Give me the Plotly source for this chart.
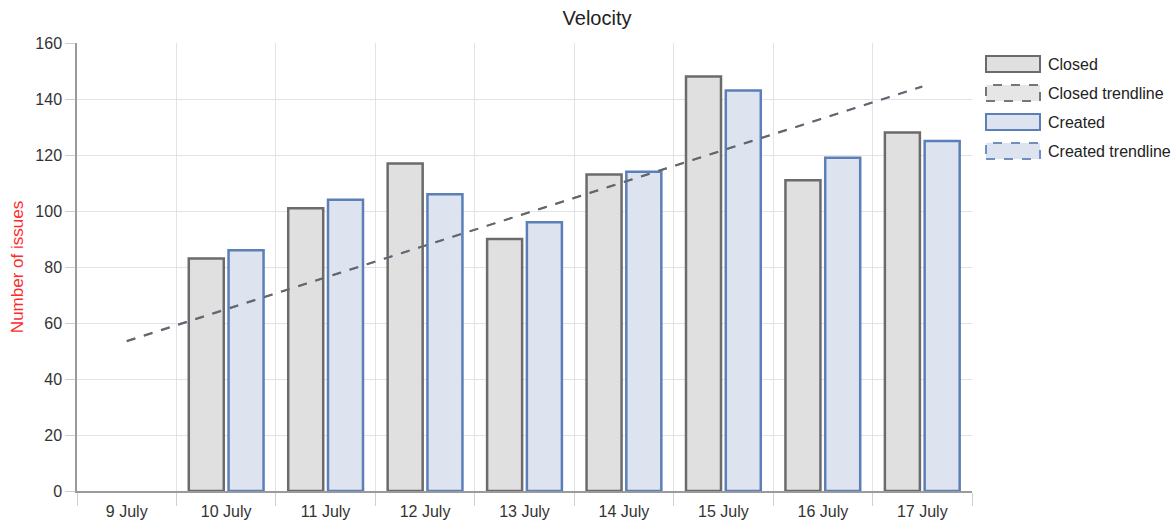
import plotly.graph_objects as go

categories = ["9 July", "10 July", "11 July", "12 July", "13 July", "14 July", "15 July", "16 July", "17 July"]
closed = [None, 83, 101, 117, 90, 113, 148, 111, 128]
created = [None, 86, 104, 106, 96, 114, 143, 119, 125]
trend_x = ["9 July", "17 July"]
closed_trend = [53.5, 144.5]
created_trend = [53.6, 144.4]
y_ticks = [0, 20, 40, 60, 80, 100, 120, 140, 160]

FONT = "Liberation Sans, Arial, sans-serif"
W, H = 1172, 520
L, R, T, B = 77, 200, 43, 29
PW, PH = W - L - R, H - T - B

fig = go.Figure()
fig.add_bar(x=categories, y=closed, name="Closed",
            marker=dict(color="#e0e0e0", line=dict(color="#6b6b6b", width=2.5)))
fig.add_bar(x=categories, y=created, name="Created",
            marker=dict(color="#dde4ef", line=dict(color="#5b7fb8", width=2.5)))
fig.add_scatter(x=trend_x, y=created_trend, mode="lines", name="Created trendline",
                line=dict(color="#6f8fc4", width=2, dash="dash"))
fig.add_scatter(x=trend_x, y=closed_trend, mode="lines", name="Closed trendline",
                line=dict(color="#666666", width=2, dash="dash"))

# custom legend (pixel positions converted to paper coords)
def px(x):
    return (x - L) / PW

def py(y):
    return (H - B - y) / PH

legend_items = [
    ("Closed", "#e0e0e0", "#6b6b6b", "solid"),
    ("Closed trendline", "#e6e6e6", "#777777", "dash"),
    ("Created", "#dde4ef", "#5b7fb8", "solid"),
    ("Created trendline", "#dde4ef", "#6f8fc4", "dash"),
]
shapes = []
annotations = []
for i, (label, fill, border, dash) in enumerate(legend_items):
    top = 56 + i * 29
    shapes.append(dict(type="rect", xref="paper", yref="paper",
                       x0=px(986), x1=px(1040), y0=py(top + 16), y1=py(top),
                       fillcolor=fill, line=dict(color=border, width=2, dash=dash)))
    annotations.append(dict(xref="paper", yref="paper", x=px(1046), y=py(top + 8),
                            text=label, showarrow=False, xanchor="left", yanchor="middle",
                            font=dict(family=FONT, size=16, color="#222222")))

fig.update_layout(
    width=W, height=H,
    margin=dict(l=L, r=R, t=T, b=B, autoexpand=False),
    paper_bgcolor="white", plot_bgcolor="white",
    barmode="group", bargap=0.2, bargroupgap=0.12,
    showlegend=False,
    title=dict(text="Velocity", x=597 / W, xanchor="center", xref="container",
               y=1 - 18 / H, yanchor="middle", yref="container",
               font=dict(family=FONT, size=20, color="#222222")),
    font=dict(family=FONT, size=16, color="#333333"),
    shapes=shapes, annotations=annotations,
)
fig.update_xaxes(type="category", categoryorder="array", categoryarray=categories,
                 automargin=False,
                 tickson="boundaries", ticks="outside", ticklen=13, tickcolor="#d0d0d0",
                 ticklabelstandoff=5,
                 showgrid=True, gridcolor="#e3e3e3", gridwidth=1,
                 showline=True, linecolor="#9a9a9a", linewidth=1.5,
                 tickfont=dict(family=FONT, size=16, color="#333333"))
fig.update_yaxes(range=[0, 160], tickvals=y_ticks, ticks="outside", ticklen=10,
                 automargin=False,
                 tickcolor="#d0d0d0", showgrid=True, gridcolor="#e3e3e3", gridwidth=1,
                 showline=True, linecolor="#9a9a9a", linewidth=1.5, zeroline=False,
                 title=dict(text="Number of issues", standoff=7,
                            font=dict(family=FONT, size=17, color="#ff2a2a")),
                 tickfont=dict(family=FONT, size=16, color="#333333"))

fig.write_html("out.html", config={"displayModeBar": False},
               post_script="document.body.style.margin='0';document.body.style.overflow='hidden';")
